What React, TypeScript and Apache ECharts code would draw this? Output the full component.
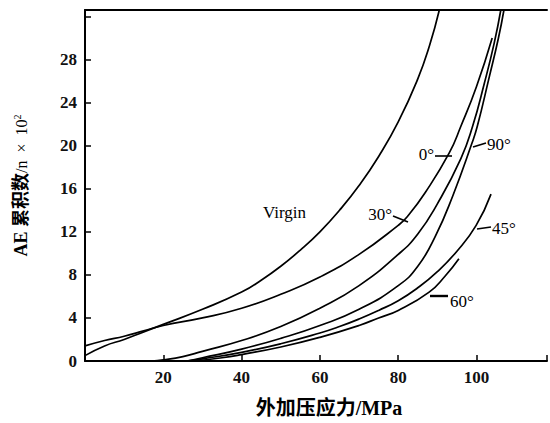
import React, { useEffect, useRef } from "react";
import * as echarts from "echarts";

// ---- data (x: applied stress MPa, y: AE cumulative count /n x 10^2) ----
const xTicks = [20, 40, 60, 80, 100];
const yTicks = [0, 4, 8, 12, 16, 20, 24, 28];

const virgin = [
  [0, 0.5], [5, 1.4], [10, 2.0], [15, 2.7], [20, 3.4], [30, 4.8], [40, 6.4],
  [45, 7.5], [50, 8.8], [55, 10.3], [60, 12.0], [65, 14.0], [70, 16.3],
  [75, 19.0], [80, 22.2], [85, 26.2], [88, 29.3], [90.5, 32.6],
];
const deg30 = [
  [0, 1.4], [5, 1.9], [10, 2.3], [15, 2.8], [20, 3.3], [30, 4.0], [40, 4.9],
  [50, 6.2], [60, 7.8], [70, 9.9], [80, 12.6], [82.3, 13.4], [87, 15.7],
  [93, 19.3], [96, 21.8], [100, 25.5], [104, 30],
];
const deg0 = [
  [17, 0], [20, 0.1], [25, 0.4], [30, 0.9], [40, 1.9], [50, 3.2], [60, 4.9],
  [70, 7.0], [80, 9.9], [85, 11.8], [90, 14.6], [96, 18.8], [99, 21.8],
  [102, 25.8], [104.5, 29.5], [106.2, 32.6],
];
const deg90 = [
  [26, 0], [30, 0.3], [40, 1.1], [50, 2.1], [60, 3.3], [70, 4.8], [80, 7.0],
  [85, 8.8], [89.5, 11.6], [94, 15.4], [98.8, 20.2], [100.2, 21.8],
  [103.2, 26.3], [105.6, 30], [107, 32.6],
];
const deg45 = [
  [26, 0], [30, 0.2], [40, 0.8], [50, 1.6], [60, 2.6], [65, 3.2], [70, 3.9],
  [75, 4.7], [80, 5.6], [85, 6.8], [90, 8.3], [95, 10.2], [99.9, 12.6],
  [103.7, 15.5],
];
const deg60 = [
  [28, 0], [35, 0.3], [40, 0.6], [50, 1.3], [60, 2.2], [70, 3.3], [75, 4.0],
  [80, 4.7], [87.9, 6.4], [92, 7.9], [95.5, 9.5],
];

const seriesList = [
  { name: "Virgin", data: virgin },
  { name: "30°", data: deg30 },
  { name: "0°", data: deg0 },
  { name: "90°", data: deg90 },
  { name: "45°", data: deg45 },
  { name: "60°", data: deg60 },
];

const SERIF = '"Liberation Serif", "Times New Roman", "Noto Sans CJK SC", serif';

export default function App() {
  const ref = useRef<HTMLDivElement>(null);

  useEffect(() => {
    if (!ref.current) return;
    const chart = echarts.init(ref.current, undefined, { renderer: "svg" });

    const lbl = (text: string, x: number, y: number, align: string) => ({
      type: "text",
      x,
      y,
      silent: true,
      style: {
        text,
        fill: "#000",
        fontSize: 17,
        fontFamily: SERIF,
        align,
        verticalAlign: "middle",
      },
    });
    const leader = (x1: number, y1: number, x2: number, y2: number, w = 1.6) => ({
      type: "line",
      silent: true,
      shape: { x1, y1, x2, y2 },
      style: { stroke: "#000", lineWidth: w },
    });

    chart.setOption({
      animation: false,
      backgroundColor: "#fff",
      grid: { left: 85, right: 2, top: 10, bottom: 56 },
      xAxis: [
        {
          type: "value",
          min: 0,
          max: 118,
          interval: 20,
          name: "外加压应力/MPa",
          nameLocation: "middle",
          nameGap: 37,
          nameTextStyle: {
            fontSize: 20,
            fontWeight: "bold",
            fontFamily: SERIF,
            color: "#000",
            padding: [0, 0, 0, 26],
          },
          axisLine: { show: true, lineStyle: { color: "#000", width: 2 } },
          axisTick: { show: true, inside: true, length: 6, lineStyle: { color: "#000", width: 1.5 } },
          axisLabel: {
            show: true,
            margin: 8,
            fontSize: 17,
            fontWeight: "bold",
            fontFamily: SERIF,
            color: "#111",
            formatter: (v: number) => (xTicks.includes(v) ? String(v) : ""),
          },
          splitLine: { show: false },
        },
        {
          type: "value",
          position: "top",
          min: 0,
          max: 118,
          axisLine: { show: true, lineStyle: { color: "#000", width: 2 } },
          axisTick: { show: false },
          axisLabel: { show: false },
          splitLine: { show: false },
        },
      ],
      yAxis: {
        type: "value",
        min: 0,
        max: 32.6,
        interval: 4,
        name: "{a|AE 累积数}{b|/n  ×  10}{c|2}",
        nameLocation: "middle",
        nameGap: 55,
        nameRotate: 90,
        nameTextStyle: {
          color: "#000",
          rich: {
            a: { fontSize: 18, fontWeight: "bold", fontFamily: SERIF, color: "#000" },
            b: { fontSize: 16, fontFamily: SERIF, color: "#000" },
            c: { fontSize: 10, fontFamily: SERIF, color: "#000", verticalAlign: "top", padding: [0, 0, 8, 0] },
          },
        },
        axisLine: { show: true, lineStyle: { color: "#000", width: 2 } },
        axisTick: { show: true, inside: true, length: 6, lineStyle: { color: "#000", width: 1.5 } },
        axisLabel: {
          margin: 8,
          fontSize: 17,
          fontWeight: "bold",
          fontFamily: SERIF,
          color: "#111",
          formatter: (v: number) => (yTicks.includes(v) ? String(v) : ""),
        },
        splitLine: { show: false },
      },
      series: seriesList.map((s) => ({
        name: s.name,
        type: "line",
        data: s.data,
        xAxisIndex: 0,
        smooth: 0.5,
        showSymbol: false,
        symbol: "none",
        lineStyle: { color: "#000", width: 1.7 },
        emphasis: { disabled: true },
      })),
      graphic: [
        lbl("Virgin", 263, 212, "left"),
        lbl("30°", 392, 214, "right"),
        leader(393, 216, 408, 222),
        lbl("0°", 434, 154, "right"),
        leader(435, 156, 452, 156),
        lbl("90°", 487, 144, "left"),
        leader(473, 147, 486, 143),
        lbl("45°", 492, 228, "left"),
        leader(477, 229, 491, 227),
        lbl("60°", 450, 301, "left"),
        leader(430, 296, 448, 296, 2.4),
      ],
    });

    return () => chart.dispose();
  }, []);

  return (
    <div
      ref={ref}
      style={{ position: "fixed", left: 0, top: 0, width: 550, height: 423, background: "#fff" }}
    />
  );
}
